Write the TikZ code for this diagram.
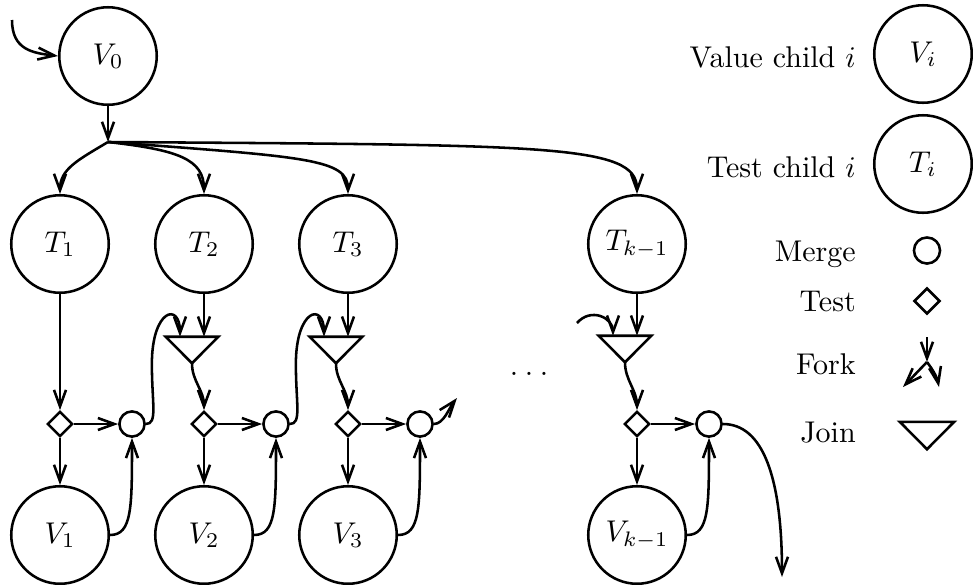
\documentclass[tikz,border=0pt]{standalone}
\usetikzlibrary{arrows.meta,shapes.geometric}
\begin{document}
\begin{tikzpicture}[x=0.33333pt, y=-0.33333pt, line width=0.85pt,
  >={Straight Barb[length=5.5pt,width=4pt]},
  childnode/.style={circle, draw, minimum size=32.5pt, inner sep=0pt},
  mergenode/.style={circle, draw, minimum size=8.4pt, inner sep=0pt},
  testnode/.style={diamond, draw, minimum size=8.4pt, inner sep=0pt},
  joinnode/.style={inner sep=0pt, minimum width=16.7pt, minimum height=8pt},
  legendlabel/.style={anchor=base east, inner sep=0pt}]
\useasboundingbox (0,0) rectangle (973,585);

% ---- root and fork ----
\node[childnode] (V0) at (108,56) {$V_0$};
\coordinate (in) at (12,20);
\coordinate (F) at (108,142);

% ---- test children ----
\node[childnode] (T1) at (60,244)  {$T_1$};
\node[childnode] (T2) at (204,244) {$T_2$};
\node[childnode] (T3) at (348,244) {$T_3$};
\node[childnode] (Tk) at (637,244) {$T_{k-1}$};

% ---- joins ----
\node[joinnode] (J2) at (192,350) {};
\node[joinnode] (J3) at (336,350) {};
\node[joinnode] (Jk) at (625,349) {};

% ---- tests ----
\node[testnode] (D1) at (60,424)  {};
\node[testnode] (D2) at (204,424) {};
\node[testnode] (D3) at (348,424) {};
\node[testnode] (Dk) at (637,424) {};

% ---- merges ----
\node[mergenode] (M1) at (132,424) {};
\node[mergenode] (M2) at (276,424) {};
\node[mergenode] (M3) at (420,424) {};
\node[mergenode] (Mk) at (709,424) {};

% ---- value children ----
\node[childnode] (V1) at (60,535)  {$V_1$};
\node[childnode] (V2) at (204,535) {$V_2$};
\node[childnode] (V3) at (348,535) {$V_3$};
\node[childnode] (Vk) at (637,535) {$V_{k-1}$};

\node[anchor=base] (dots) at (529,375) {.\kern2.2pt.\kern2.2pt.};

\coordinate (o3) at (457,398);
\coordinate (ik) at (577,323);
\coordinate (ok) at (782,577);

% join triangles
\foreach \j in {J2,J3,Jk}
  \draw[line join=miter] (\j.north west) -- (\j.north east) -- (\j.south) -- cycle;

% ---- connectors ----
\draw[->] (in) .. controls +(0,30) and +(-25,-3) .. (V0.west);
\draw[->] (V0) -- (F);
\draw[->] (F) .. controls +(-30,18) and +(0,-25) .. (T1.north);
\draw[->] (F) .. controls +(70,8) and +(0,-35) .. (T2.north);
\draw[->] (F) .. controls +(200,15) and +(0,-35) .. (T3.north);
\draw[->] (F) .. controls +(440,3) and +(0,-50) .. (Tk.north);

\draw[->] (T1) -- (D1);
\foreach \t/\j in {T2/J2,T3/J3,Tk/Jk}
  \draw[->] (\t.south) -- (\t.south |- \j.north);
\foreach \j/\d in {J2/D2,J3/D3,Jk/Dk}
  \draw[->] (\j.south) .. controls +(0,18) and +(0,-20) .. (\d.north);

\foreach \d/\v/\m in {D1/V1/M1,D2/V2/M2,D3/V3/M3,Dk/Vk/Mk}{
  \draw[->] (\d) -- (\v);
  \draw[->] (\d) -- (\m);
  \draw[->] (\v.east) .. controls +(22,0) and +(0,70) .. (\m.south);
}

\foreach \m/\j in {M1/J2,M2/J3}
  \draw[->] (\m.east) .. controls +(12,0) and +(0,40) .. ++(6,-60)
    .. controls +(0,-55) and +(0,-35) .. ([xshift=-4pt]\j.north);

\draw[->] (M3.east) .. controls +(10,0) and +(-8,10) .. (o3);
\draw[->] (ik) .. controls +(14,-16) and +(0,-18) .. ([xshift=-4pt]Jk.north);
\draw[->] (Mk.east) .. controls +(40,0) and +(0,-100) .. (ok);

% ---- legend ----
\node[legendlabel] (lv) at (857,67) {Value child $i$};
\node[childnode] (LV) at (923,54) {$V_i$};
\node[legendlabel] (lt) at (857,177) {Test child $i$};
\node[childnode] (LT) at (923,164) {$T_i$};
\node[legendlabel] (lm) at (857,261) {Merge};
\node[mergenode, minimum size=8.7pt] (LM) at (927,250.5) {};
\node[legendlabel] (ltest) at (857,311) {Test};
\node[testnode, minimum size=8.7pt] (LD) at (927,301) {};
\node[legendlabel] (lf) at (857,374) {Fork};
\coordinate (LF) at (927,362);
\coordinate (LFa) at (927,337);
\coordinate (LFb) at (903,387);
\coordinate (LFc) at (939,387);
\draw[->] (LFa) -- (LF);
\draw[->] (LF) -- (LFb);
\draw[->] (LF) .. controls +(6,8) and +(-2,-10) .. (LFc);
\node[legendlabel] (lj) at (857,442) {Join};
\node[joinnode, minimum width=17.3pt, minimum height=8.3pt] (LJ) at (927,435.5) {};
\draw[line join=miter] (LJ.north west) -- (LJ.north east) -- (LJ.south) -- cycle;
\end{tikzpicture}
\end{document}
